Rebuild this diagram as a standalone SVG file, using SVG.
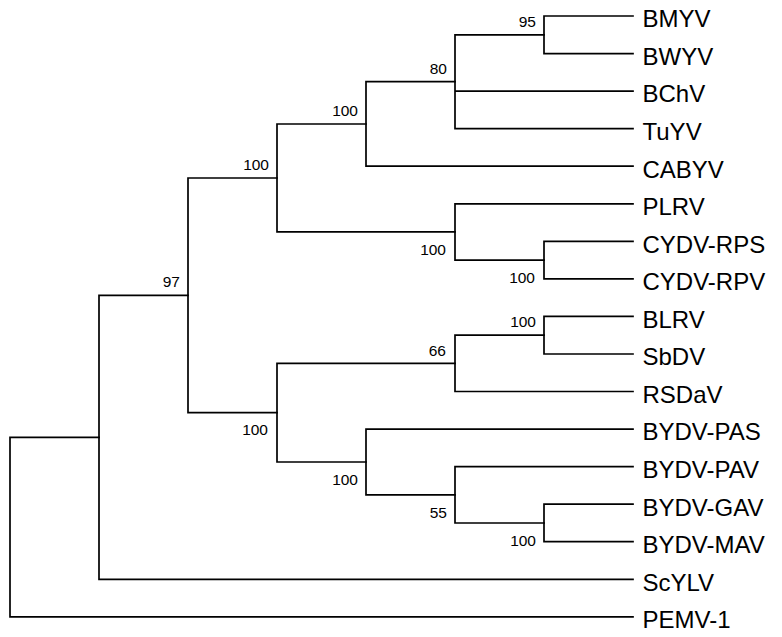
<svg xmlns="http://www.w3.org/2000/svg" width="782" height="637" viewBox="0 0 782 637">
<style>
.br{fill:none;stroke:#000;stroke-width:1.7;stroke-linecap:square}
.leaf{font-family:"Liberation Sans",Arial,sans-serif;font-size:24px;fill:#000}
.bs{font-family:"Liberation Sans",Arial,sans-serif;font-size:15.5px;fill:#000;text-anchor:end}
</style>
<rect width="782" height="637" fill="#fff"/>
<g id="connectors">
<path class="br" d="M544,16V53.6 M544,16H633 M544,53.6H633"/>
<path class="br" d="M455,34.8V128.7 M455,34.8H544 M455,91.1H633 M455,128.7H633"/>
<path class="br" d="M366,81.7V166.2 M366,81.7H455 M366,166.2H633"/>
<path class="br" d="M544,241.3V278.9 M544,241.3H633 M544,278.9H633"/>
<path class="br" d="M455,203.8V260.1 M455,203.8H633 M455,260.1H544"/>
<path class="br" d="M277,124V231.9 M277,124H366 M277,231.9H455"/>
<path class="br" d="M544,316.4V354 M544,316.4H633 M544,354H633"/>
<path class="br" d="M455,335.2V391.5 M455,335.2H544 M455,391.5H633"/>
<path class="br" d="M544,504.2V541.7 M544,504.2H633 M544,541.7H633"/>
<path class="br" d="M455,466.6V523 M455,466.6H633 M455,523H544"/>
<path class="br" d="M366,429.1V494.8 M366,429.1H633 M366,494.8H455"/>
<path class="br" d="M277,363.4V462 M277,363.4H455 M277,462H366"/>
<path class="br" d="M188,178V412.7 M188,178H277 M188,412.7H277"/>
<path class="br" d="M99,295.4V579.3 M99,295.4H188 M99,579.3H633"/>
<path class="br" d="M10,437.3V616.8 M10,437.3H99 M10,616.8H633"/>
</g>
<g id="leaf-BMYV"><text class="leaf" x="642.5" y="27.3">BMYV</text></g>
<g id="leaf-BWYV"><text class="leaf" x="642.5" y="64.9">BWYV</text></g>
<g id="leaf-BChV"><text class="leaf" x="642.5" y="102.4">BChV</text></g>
<g id="leaf-TuYV"><text class="leaf" x="642.5" y="140">TuYV</text></g>
<g id="leaf-CABYV"><text class="leaf" x="642.5" y="177.5">CABYV</text></g>
<g id="leaf-PLRV"><text class="leaf" x="642.5" y="215.1">PLRV</text></g>
<g id="leaf-CYDV-RPS"><text class="leaf" x="642.5" y="252.6">CYDV-RPS</text></g>
<g id="leaf-CYDV-RPV"><text class="leaf" x="642.5" y="290.2">CYDV-RPV</text></g>
<g id="leaf-BLRV"><text class="leaf" x="642.5" y="327.7">BLRV</text></g>
<g id="leaf-SbDV"><text class="leaf" x="642.5" y="365.3">SbDV</text></g>
<g id="leaf-RSDaV"><text class="leaf" x="642.5" y="402.8">RSDaV</text></g>
<g id="leaf-BYDV-PAS"><text class="leaf" x="642.5" y="440.4">BYDV-PAS</text></g>
<g id="leaf-BYDV-PAV"><text class="leaf" x="642.5" y="477.9">BYDV-PAV</text></g>
<g id="leaf-BYDV-GAV"><text class="leaf" x="642.5" y="515.5">BYDV-GAV</text></g>
<g id="leaf-BYDV-MAV"><text class="leaf" x="642.5" y="553">BYDV-MAV</text></g>
<g id="leaf-ScYLV"><text class="leaf" x="642.5" y="590.6">ScYLV</text></g>
<g id="leaf-PEMV-1"><text class="leaf" x="642.5" y="628.1">PEMV-1</text></g>
<g id="node-95"><text class="bs" x="536" y="26.7">95</text></g>
<g id="node-80"><text class="bs" x="447" y="74">80</text></g>
<g id="node-cabyv"><text class="bs" x="358" y="116">100</text></g>
<g id="node-upper"><text class="bs" x="269" y="170">100</text></g>
<g id="node-ingroup"><text class="bs" x="180" y="287">97</text></g>
<g id="node-plrv"><text class="bs" x="446" y="255">100</text></g>
<g id="node-cydv"><text class="bs" x="535" y="282.7">100</text></g>
<g id="node-blrv"><text class="bs" x="536" y="327">100</text></g>
<g id="node-66"><text class="bs" x="446" y="355.5">66</text></g>
<g id="node-lower"><text class="bs" x="268" y="435">100</text></g>
<g id="node-bydv"><text class="bs" x="358" y="484.5">100</text></g>
<g id="node-55"><text class="bs" x="447" y="517.5">55</text></g>
<g id="node-gavmav"><text class="bs" x="536" y="545.5">100</text></g>
<g id="node-97"/>
<g id="node-root"/>
</svg>
